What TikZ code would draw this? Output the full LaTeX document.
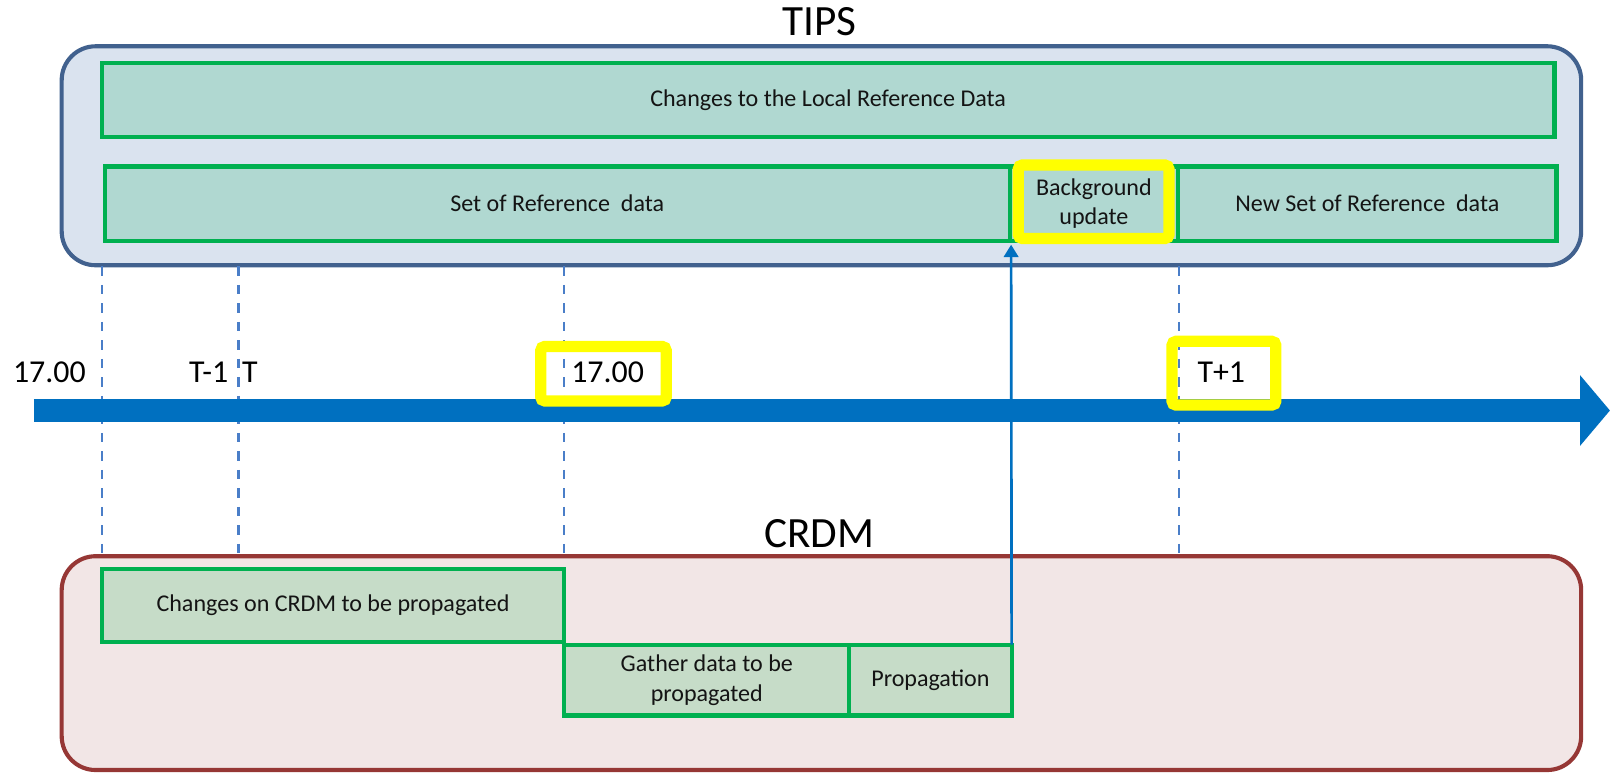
\documentclass[tikz,border=0pt]{standalone}
\usepackage{fontspec}
\setmainfont{Carlito}
\usetikzlibrary{arrows.meta}
\definecolor{tipsfill}{RGB}{218,227,239}
\definecolor{tipsdraw}{RGB}{65,97,142}
\definecolor{crdmfill}{RGB}{242,230,230}
\definecolor{crdmdraw}{RGB}{150,55,53}
\definecolor{tealbox}{RGB}{176,216,209}
\definecolor{sagebox}{RGB}{198,220,200}
\definecolor{grn}{RGB}{0,176,80}
\definecolor{ylw}{RGB}{255,255,0}
\definecolor{tlblue}{RGB}{0,112,192}
\definecolor{dashblue}{RGB}{74,126,200}
\definecolor{txt}{RGB}{20,20,20}
\begin{document}
\begin{tikzpicture}[x=0.5pt,y=-0.5pt,
  group/.style={rounded corners=16.5pt, line width=2pt, inner sep=0pt, outer sep=0pt},
  bar/.style={draw=grn, line width=2pt, fill=tealbox, inner sep=0pt, outer sep=0pt,
    font=\fontsize{11.7}{14.5}\selectfont, text=txt, align=center},
  hl/.style={draw=ylw, line width=5.5pt, rounded corners=2pt, inner sep=0pt, outer sep=0pt},
  title/.style={font=\fontsize{21}{24}\selectfont, text=black},
  tlab/.style={font=\fontsize{15.5}{18}\selectfont, text=black},
  guide/.style={draw=dashblue, line width=1pt, dash pattern=on 4.5pt off 4.5pt}]
\useasboundingbox (0,0) rectangle (1568,751);
\fill[white] (0,0) rectangle (1568,751);

% groups
\node[group, draw=tipsdraw, fill=tipsfill, minimum width=739pt, minimum height=106.5pt] (tips) at (799,151.5) {};
\node[title] (tipst) at (797,21) {TIPS};
\node[group, draw=crdmdraw, fill=crdmfill, minimum width=739pt, minimum height=104pt] (crdm) at (799,645) {};
\node[title] (crdmt) at (797,519) {CRDM};

% guides
\coordinate (g1a) at (99,259);   \coordinate (g1b) at (99,540);
\coordinate (g2a) at (232,259);  \coordinate (g2b) at (232,540);
\coordinate (g3a) at (549,259);  \coordinate (g3b) at (549,540);
\coordinate (g4a) at (1147,259); \coordinate (g4b) at (1147,540);
\draw[guide] (g1a) -- (g1b);
\draw[guide] (g2a) -- (g2b);
\draw[guide] (g3a) -- (g3b);
\draw[guide] (g4a) -- (g4b);

% timeline
\coordinate (ts) at (33,399.3);
\coordinate (te) at (1566,399.3);
\draw[tlblue, line width=10.9pt, -{Triangle[width=33.5pt,length=14.5pt]}] (ts) -- (te);

\node[tlab] (l1) at (48,362) {17.00};
\node[tlab] (l2) at (203,362) {T-1};
\node[tlab] (l3) at (243,362) {T};
\node[tlab] (l4) at (591,362) {17.00};
\node[tlab] (l5) at (1188,362) {T+1};
\node[hl, minimum width=61pt, minimum height=26.5pt] (h4) at (587,363.5) {};
\node[hl, minimum width=50.5pt, minimum height=31pt] (h5) at (1190.5,363) {};

% TIPS bars
\node[bar, minimum width=706.5pt, minimum height=36pt] (chg) at (805.5,97) {Changes to the Local Reference Data};
\node[bar, minimum width=440pt, minimum height=36pt] (set) at (542,198) {Set of Reference~ data};
\node[bar, minimum width=82pt, minimum height=36pt] (bg) at (1064,198) {Background\\update};
\node[bar, minimum width=184pt, minimum height=36pt] (new) at (1330,198) {New Set of Reference~ data};
\node[hl, minimum width=73.25pt, minimum height=35.75pt] (bghl) at (1063.75,196.25) {};

% CRDM bars
\node[bar, fill=sagebox, minimum width=225pt, minimum height=35.5pt] (chc) at (324,589) {Changes on CRDM to be propagated};
\node[bar, fill=sagebox, minimum width=138.5pt, minimum height=34.5pt] (gat) at (687.5,661.5) {Gather data to be\\propagated};
\node[bar, fill=sagebox, minimum width=79pt, minimum height=34.5pt] (prop) at (905,661.5) {Propagation};

% propagation arrow
\coordinate (vt) at (983.5,238);
\draw[tlblue, line width=1.3pt, -{Triangle[width=7pt,length=6pt]}] (prop.north east) -- (vt);
\end{tikzpicture}
\end{document}
